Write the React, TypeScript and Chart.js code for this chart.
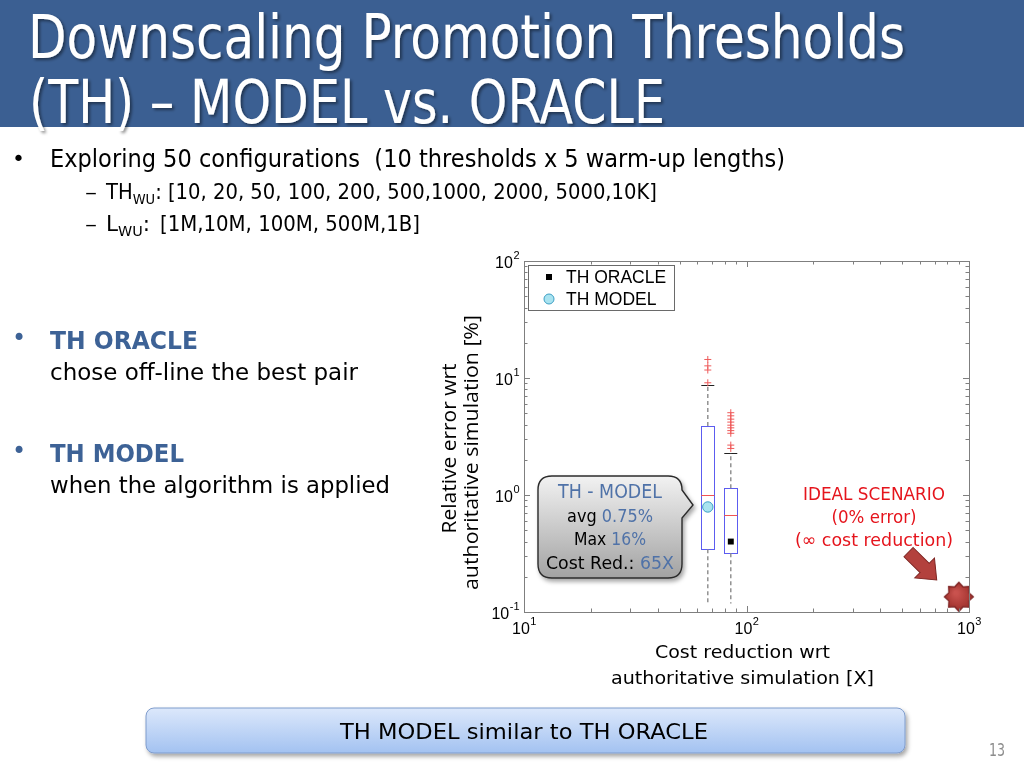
import React, { useEffect, useRef } from 'react';
import { Chart, registerables } from 'chart.js';

Chart.register(...registerables);

// ---------- data ----------
const xTickValues = [10, 100, 1000];
const xTickExponents = ['1', '2', '3'];
const yTickValues = [0.1, 1, 10, 100];
const yTickExponents = ['-1', '0', '1', '2'];

const xTitleLines = ['Cost reduction wrt', 'authoritative simulation [X]'];
const yTitleLines = ['Relative error wrt', 'authoritative simulation [%]'];

const boxCost = [67, 85];
const boxQ1 = [0.343, 0.318];
const boxMedian = [1.0, 0.675];
const boxQ3 = [3.89, 1.14];
const boxWhiskerHigh = [8.7, 2.29];
const boxWhiskerLow = [0.115, 0.118];

const outliers1 = [14.4, 12.7, 11.7, 9.1];
const outliers2 = [5.05, 4.75, 4.45, 4.2, 3.95, 3.75, 3.55, 3.37, 2.67, 2.5];

const oracleCost = [85];
const oracleError = [0.4];
const modelCost = [67];
const modelError = [0.79];
const idealCost = [900];
const idealError = [0.135];

const arrowFrom = [535, 0.325];
const arrowTo = [716, 0.188];

const legendLabels = ['TH ORACLE', 'TH MODEL'];

const SANS = "'DejaVu Sans', 'Liberation Sans', sans-serif";
const ARIAL = "'Liberation Sans', Arial, sans-serif";
const OPEN = "'Open Sans', 'DejaVu Sans', sans-serif";
const BLUE = '#3d6296';
const BLUE2 = '#4f72a8';
const RED = '#e5141c';

function makeStar(): HTMLCanvasElement {
  const c = document.createElement('canvas');
  c.width = 32;
  c.height = 32;
  const g = c.getContext('2d')!;
  const cx = 16, cy = 16, ro = 14.5, ri = 10.8;
  g.beginPath();
  for (let i = 0; i < 16; i++) {
    const a = (Math.PI / 8) * i - Math.PI / 2;
    const r = i % 2 === 0 ? ro : ri;
    const px = cx + r * Math.cos(a);
    const py = cy + r * Math.sin(a);
    if (i === 0) g.moveTo(px, py);
    else g.lineTo(px, py);
  }
  g.closePath();
  const grad = g.createRadialGradient(13, 12, 2, 16, 16, 15);
  grad.addColorStop(0, '#c9524e');
  grad.addColorStop(1, '#9c2f2b');
  g.fillStyle = grad;
  g.fill();
  g.strokeStyle = '#7a2020';
  g.lineWidth = 1.2;
  g.stroke();
  return c;
}

function drawSup(ctx: CanvasRenderingContext2D, base: string, exp: string, x: number, y: number, mode: 'right' | 'center') {
  ctx.font = `16px ${ARIAL}`;
  const wb = ctx.measureText(base).width;
  ctx.font = `11px ${ARIAL}`;
  const we = ctx.measureText(exp).width;
  const bx = mode === 'right' ? x - we - wb : x - (wb + we) / 2;
  ctx.textAlign = 'left';
  ctx.textBaseline = 'middle';
  ctx.fillStyle = '#000';
  ctx.font = `16px ${ARIAL}`;
  ctx.fillText(base, bx, y);
  ctx.font = `11px ${ARIAL}`;
  ctx.fillText(exp, bx + wb + 0.5, y - 8);
}

function fitText(ctx: CanvasRenderingContext2D, text: string, cx: number, cy: number, width: number, font: string, rotate: boolean) {
  ctx.save();
  ctx.translate(cx, cy);
  if (rotate) ctx.rotate(-Math.PI / 2);
  ctx.font = font;
  const w = ctx.measureText(text).width;
  ctx.scale(width / w, 1);
  ctx.textAlign = 'center';
  ctx.textBaseline = 'middle';
  ctx.fillStyle = '#000';
  ctx.fillText(text, 0, 0);
  ctx.restore();
}

const boxPlugin = {
  id: 'boxPlot',
  beforeDatasetsDraw(chart: any) {
    const { ctx, scales } = chart;
    const x = scales.x, y = scales.y;
    ctx.save();
    for (let i = 0; i < boxCost.length; i++) {
      const cx = x.getPixelForValue(boxCost[i]);
      const y1 = y.getPixelForValue(boxQ1[i]);
      const y3 = y.getPixelForValue(boxQ3[i]);
      const ym = y.getPixelForValue(boxMedian[i]);
      const yw = y.getPixelForValue(boxWhiskerHigh[i]);
      const hw = 6.5;
      ctx.lineWidth = 1;
      ctx.strokeStyle = '#5c5cf0';
      ctx.strokeRect(Math.round(cx - hw) + 0.5, Math.round(y3) + 0.5, 2 * hw, Math.round(y1 - y3));
      ctx.strokeStyle = '#f05454';
      ctx.beginPath();
      ctx.moveTo(cx - hw, Math.round(ym) + 0.5);
      ctx.lineTo(cx + hw, Math.round(ym) + 0.5);
      ctx.stroke();
      ctx.strokeStyle = '#222';
      ctx.beginPath();
      ctx.moveTo(cx - 6.5, Math.round(yw) + 0.5);
      ctx.lineTo(cx + 6.5, Math.round(yw) + 0.5);
      ctx.stroke();
    }
    ctx.restore();
  },
  afterDraw(chart: any) {
    const { ctx, chartArea: a, scales } = chart;
    const x = scales.x, y = scales.y;
    ctx.save();
    // frame
    ctx.strokeStyle = '#7f7f7f';
    ctx.lineWidth = 1;
    ctx.strokeRect(Math.round(a.left) + 0.5, Math.round(a.top) + 0.5, Math.round(a.right - a.left), Math.round(a.bottom - a.top));
    // inner ticks
    ctx.beginPath();
    for (let d = 1; d <= 2; d++) {
      for (let m = 1; m <= 9; m++) {
        const v = Math.pow(10, d) * m;
        const px = Math.round(x.getPixelForValue(v)) + 0.5;
        const len = m === 1 ? 6 : 3.5;
        ctx.moveTo(px, a.bottom);
        ctx.lineTo(px, a.bottom - len);
        ctx.moveTo(px, a.top);
        ctx.lineTo(px, a.top + len);
      }
    }
    for (let d = -1; d <= 1; d++) {
      for (let m = 1; m <= 9; m++) {
        const v = Math.pow(10, d) * m;
        const py = Math.round(y.getPixelForValue(v)) + 0.5;
        const len = m === 1 ? 6 : 3.5;
        ctx.moveTo(a.left, py);
        ctx.lineTo(a.left + len, py);
        ctx.moveTo(a.right, py);
        ctx.lineTo(a.right - len, py);
      }
    }
    ctx.stroke();
    // tick labels
    xTickValues.forEach((v, i) => {
      drawSup(ctx, '10', xTickExponents[i], x.getPixelForValue(v), a.bottom + 18, 'center');
    });
    yTickValues.forEach((v, i) => {
      drawSup(ctx, '10', yTickExponents[i], a.left - 5, y.getPixelForValue(v) + 3, 'right');
    });
    // axis titles
    const midX = (a.left + a.right) / 2;
    const midY = (a.top + a.bottom) / 2;
    fitText(ctx, xTitleLines[0], midX - 4, a.bottom + 41, 175, `18px ${SANS}`, false);
    fitText(ctx, xTitleLines[1], midX - 4, a.bottom + 67, 263, `18px ${SANS}`, false);
    fitText(ctx, yTitleLines[0], a.left - 74, midY + 12, 170, `20px ${OPEN}`, true);
    fitText(ctx, yTitleLines[1], a.left - 52, midY + 16, 275, `20px ${OPEN}`, true);
    // arrow
    const ax0 = x.getPixelForValue(arrowFrom[0]), ay0 = y.getPixelForValue(arrowFrom[1]);
    const ax1 = x.getPixelForValue(arrowTo[0]), ay1 = y.getPixelForValue(arrowTo[1]);
    const ang = Math.atan2(ay1 - ay0, ax1 - ax0);
    const L = Math.hypot(ax1 - ax0, ay1 - ay0);
    ctx.save();
    ctx.translate(ax0, ay0);
    ctx.rotate(ang);
    const sw = 6.5, hw = 14, hl = 17;
    ctx.beginPath();
    ctx.moveTo(0, -sw);
    ctx.lineTo(L - hl, -sw);
    ctx.lineTo(L - hl, -hw);
    ctx.lineTo(L, 0);
    ctx.lineTo(L - hl, hw);
    ctx.lineTo(L - hl, sw);
    ctx.lineTo(0, sw);
    ctx.closePath();
    ctx.fillStyle = '#b3413d';
    ctx.fill();
    ctx.strokeStyle = '#7d2522';
    ctx.lineWidth = 1;
    ctx.stroke();
    ctx.restore();
    // legend
    const lx = a.left + 4, ly = a.top + 4;
    ctx.fillStyle = '#fff';
    ctx.fillRect(lx, ly, 146, 45);
    ctx.strokeStyle = '#6a6a6a';
    ctx.strokeRect(Math.round(lx) + 0.5, Math.round(ly) + 0.5, 146, 45);
    ctx.fillStyle = '#000';
    ctx.fillRect(lx + 18, ly + 9, 6, 6);
    ctx.beginPath();
    ctx.arc(lx + 21, ly + 34, 5, 0, Math.PI * 2);
    ctx.fillStyle = '#a9e3f0';
    ctx.fill();
    ctx.strokeStyle = '#3d9fc4';
    ctx.stroke();
    ctx.fillStyle = '#000';
    ctx.font = `17.5px ${ARIAL}`;
    ctx.textBaseline = 'middle';
    ctx.textAlign = 'left';
    ctx.fillText(legendLabels[0], lx + 38, ly + 13);
    ctx.fillText(legendLabels[1], lx + 38, ly + 35);
    ctx.restore();
  },
};

function ChartBox() {
  const ref = useRef<HTMLCanvasElement>(null);
  useEffect(() => {
    const star = makeStar();
    const whiskers: any[] = [];
    boxCost.forEach((c, i) => {
      whiskers.push({
        label: 'whiskerHi' + i,
        data: [{ x: c, y: boxQ3[i] }, { x: c, y: boxWhiskerHigh[i] }],
        showLine: true,
        borderColor: '#8a8a8a',
        borderWidth: 1.4,
        borderDash: [4, 3],
        pointRadius: 0,
      });
      whiskers.push({
        label: 'whiskerLo' + i,
        data: [{ x: c, y: boxQ1[i] }, { x: c, y: boxWhiskerLow[i] }],
        showLine: true,
        borderColor: '#8a8a8a',
        borderWidth: 1.4,
        borderDash: [4, 3],
        pointRadius: 0,
      });
    });
    const chart = new Chart(ref.current!, {
      type: 'scatter',
      data: {
        datasets: [
          {
            label: legendLabels[0],
            data: oracleCost.map((c, i) => ({ x: c, y: oracleError[i] })),
            pointStyle: 'rect',
            pointRadius: 4.2,
            backgroundColor: '#000',
            borderColor: '#000',
            borderWidth: 0,
          },
          {
            label: legendLabels[1],
            data: modelCost.map((c, i) => ({ x: c, y: modelError[i] })),
            pointStyle: 'circle',
            pointRadius: 5.2,
            backgroundColor: '#a9e3f0',
            borderColor: '#3d9fc4',
            borderWidth: 1,
          },
          {
            label: 'ideal',
            data: idealCost.map((c, i) => ({ x: c, y: idealError[i] })),
            pointStyle: star as any,
            pointRadius: 10,
            clip: false,
          },
          {
            label: 'outliers1',
            data: outliers1.map((v) => ({ x: boxCost[0], y: v })),
            pointStyle: 'cross',
            pointRadius: 3.5,
            borderColor: '#ee5a5a',
            borderWidth: 1,
          },
          {
            label: 'outliers2',
            data: outliers2.map((v) => ({ x: boxCost[1], y: v })),
            pointStyle: 'cross',
            pointRadius: 3.5,
            borderColor: '#ee5a5a',
            borderWidth: 1,
          },
          ...whiskers,
        ],
      },
      options: {
        animation: false,
        responsive: true,
        maintainAspectRatio: false,
        layout: { padding: { top: 16, right: 31, left: 0, bottom: 0 } },
        plugins: { legend: { display: false }, tooltip: { enabled: false } },
        scales: {
          x: {
            type: 'logarithmic',
            min: 10,
            max: 1000,
            grid: { display: false },
            border: { display: false },
            ticks: { display: false },
            afterFit: (s: any) => {
              s.height = 88;
            },
          },
          y: {
            type: 'logarithmic',
            min: 0.1,
            max: 100,
            grid: { display: false },
            border: { display: false },
            ticks: { display: false },
            afterFit: (s: any) => {
              s.width = 94;
            },
          },
        },
      },
      plugins: [boxPlugin],
    });
    return () => chart.destroy();
  }, []);
  return (
    <div style={{ position: 'absolute', left: 430, top: 245, width: 570, height: 455 }}>
      <canvas ref={ref} />
    </div>
  );
}

function T(props: any) {
  const { x, y, w, size, color = '#000', weight = 400, anchor = 'start', family = SANS, children } = props;
  return (
    <text
      x={x}
      y={y}
      fontSize={size}
      fill={color}
      fontWeight={weight}
      fontFamily={family}
      textAnchor={anchor}
      textLength={w}
      lengthAdjust="spacingAndGlyphs"
      style={{ whiteSpace: 'pre' }}
    >
      {children}
    </text>
  );
}

export default function App() {
  return (
    <div style={{ position: 'absolute', left: 0, top: 0, width: 1024, height: 768, background: '#fff', overflow: 'hidden' }}>
      <ChartBox />
      <svg width={1024} height={768} style={{ position: 'absolute', left: 0, top: 0, pointerEvents: 'none' }}>
        <defs>
          <filter id="tsh" x="-5%" y="-20%" width="110%" height="140%">
            <feDropShadow dx="2" dy="2" stdDeviation="1.5" floodColor="#000" floodOpacity="0.45" />
          </filter>
          <filter id="bsh" x="-10%" y="-10%" width="130%" height="130%">
            <feDropShadow dx="2" dy="3" stdDeviation="2" floodColor="#000" floodOpacity="0.35" />
          </filter>
          <linearGradient id="bub" x1="0" y1="0" x2="0" y2="1">
            <stop offset="0" stopColor="#f2f2f2" />
            <stop offset="1" stopColor="#a2a2a2" />
          </linearGradient>
          <linearGradient id="btn" x1="0" y1="0" x2="0" y2="1">
            <stop offset="0" stopColor="#dce8fb" />
            <stop offset="1" stopColor="#a3c2f1" />
          </linearGradient>
        </defs>
        {/* title bar */}
        <rect x={0} y={0} width={1024} height={127} fill="#3b5f92" />
        <g filter="url(#tsh)">
          <T x={28} y={58} w={877} size={61} color="#fff">Downscaling Promotion Thresholds</T>
          <T x={29} y={123} w={636} size={61} color="#fff">(TH) – MODEL vs. ORACLE</T>
        </g>
        {/* bullets */}
        <text x={12} y={166} fontSize={22} fontFamily={SANS}>•</text>
        <T x={50} y={167} w={735} size={24}>Exploring 50 configurations  (10 thresholds x 5 warm-up lengths)</T>
        <T x={85} y={199} w={12} size={20}>–</T>
        <text x={106} y={199} fontSize={21} fontFamily={SANS} textLength={551} lengthAdjust="spacingAndGlyphs">
          TH<tspan fontSize={14} dy={5}>WU</tspan>
          <tspan dy={-5}>: [10, 20, 50, 100, 200, 500,1000, 2000, 5000,10K]</tspan>
        </text>
        <T x={85} y={231} w={12} size={20}>–</T>
        <text x={106} y={231} fontSize={21} fontFamily={SANS} textLength={44} lengthAdjust="spacingAndGlyphs">
          L<tspan fontSize={14} dy={5}>WU</tspan>
          <tspan dy={-5}>:</tspan>
        </text>
        <T x={160} y={231} w={260} size={21}>[1M,10M, 100M, 500M,1B]</T>

        <text x={12} y={346} fontSize={24} fill={BLUE} fontFamily={SANS}>•</text>
        <T x={50} y={349} w={148} size={25} weight={700} color={BLUE}>TH ORACLE</T>
        <T x={50} y={380} w={308} size={23}>chose off-line the best pair</T>
        <text x={12} y={459} fontSize={24} fill={BLUE} fontFamily={SANS}>•</text>
        <T x={50} y={462} w={134} size={25} weight={700} color={BLUE}>TH MODEL</T>
        <T x={50} y={493} w={340} size={23}>when the algorithm is applied</T>

        {/* callout bubble */}
        <path
          d="M 552 476 H 668 Q 682 476 682 490 L 693 505 L 682 518 V 564 Q 682 578 668 578 H 552 Q 538 578 538 564 V 490 Q 538 476 552 476 Z"
          fill="url(#bub)"
          stroke="#2b2b2b"
          strokeWidth={1.4}
          filter="url(#bsh)"
        />
        <T x={610} y={498} w={104} size={19} color={BLUE2} anchor="middle">TH - MODEL</T>
        <text x={610} y={522} fontSize={18} fontFamily={SANS} textAnchor="middle" textLength={86} lengthAdjust="spacingAndGlyphs">
          avg <tspan fill={BLUE2}>0.75%</tspan>
        </text>
        <text x={610} y={545} fontSize={18} fontFamily={SANS} textAnchor="middle" textLength={72} lengthAdjust="spacingAndGlyphs">
          Max <tspan fill={BLUE2}>16%</tspan>
        </text>
        <text x={610} y={569} fontSize={18} fontFamily={SANS} textAnchor="middle" textLength={128} lengthAdjust="spacingAndGlyphs">
          Cost Red.: <tspan fill={BLUE2}>65X</tspan>
        </text>

        {/* ideal scenario annotation */}
        <T x={874} y={500} w={142} size={18} color={RED} anchor="middle">IDEAL SCENARIO</T>
        <T x={874} y={523} w={85} size={18} color={RED} anchor="middle">(0% error)</T>
        <T x={874} y={546} w={158} size={18} color={RED} anchor="middle">(∞ cost reduction)</T>

        {/* bottom button */}
        <rect x={146} y={708} width={759} height={45} rx={8} fill="url(#btn)" stroke="#7f9ccc" strokeWidth={1} filter="url(#bsh)" />
        <T x={524} y={739} w={368} size={22} anchor="middle">TH MODEL similar to TH ORACLE</T>
        <T x={989} y={756} w={16} size={18} color="#8c8c8c">13</T>
      </svg>
    </div>
  );
}
